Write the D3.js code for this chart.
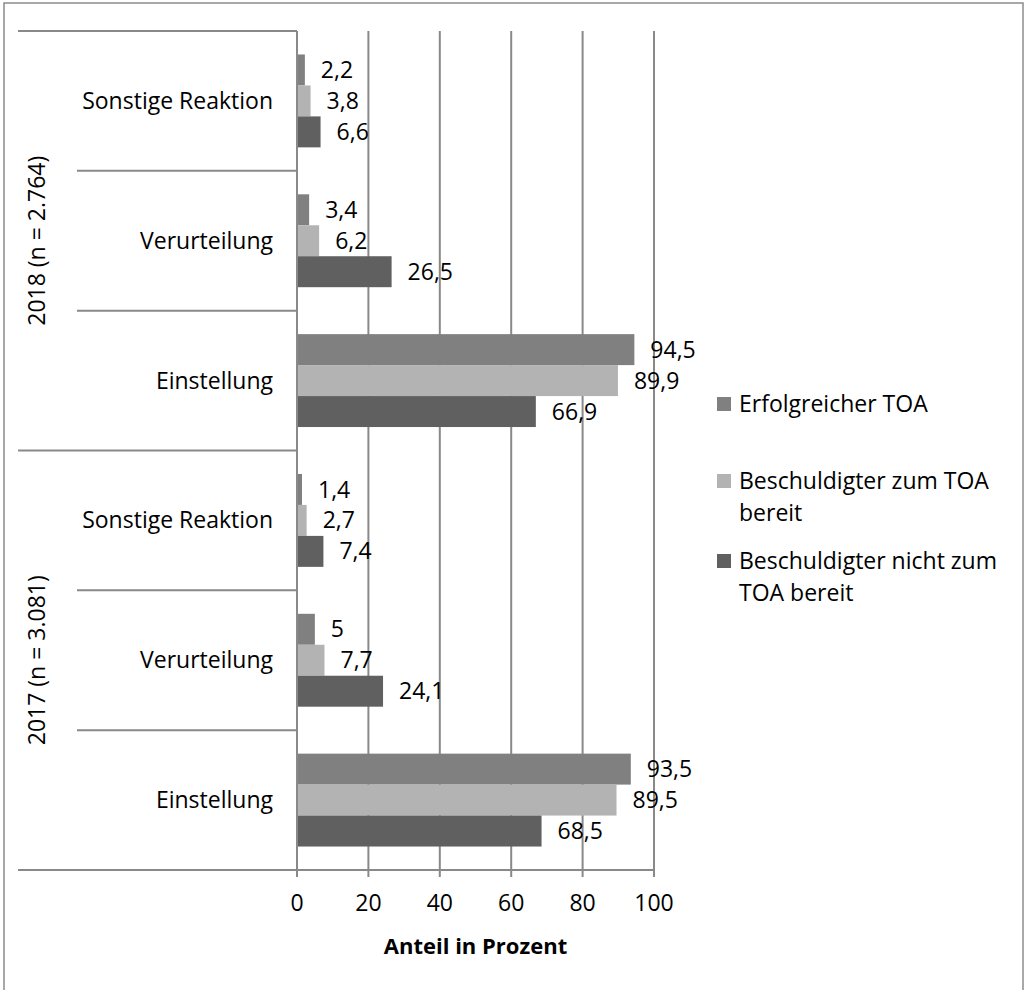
<!DOCTYPE html>
<html>
<head>
<meta charset="utf-8">
<script src="https://cdn.jsdelivr.net/npm/d3@7"></script>
<style>
  body { margin: 0; background: #fff; }
  text { font-family: "Open Sans", Lato, sans-serif; fill: #000; }
</style>
</head>
<body>
<script>
// data
var groups = ["2018 (n = 2.764)", "2017 (n = 3.081)"];
var categories = ["Sonstige Reaktion", "Verurteilung", "Einstellung"];
var seriesNames = ["Erfolgreicher TOA", "Beschuldigter zum TOA bereit", "Beschuldigter nicht zum TOA bereit"];
var legendLines = [["Erfolgreicher TOA"], ["Beschuldigter zum TOA", "bereit"], ["Beschuldigter nicht zum", "TOA bereit"]];
var seriesColors = ["#808080", "#b3b3b3", "#606060"];
var erfolgreich = [2.2, 3.4, 94.5, 1.4, 5, 93.5];
var bereit = [3.8, 6.2, 89.9, 2.7, 7.7, 89.5];
var nichtBereit = [6.6, 26.5, 66.9, 7.4, 24.1, 68.5];
var xTicks = [0, 20, 40, 60, 80, 100];
var axisTitle = "Anteil in Prozent";

var W = 1025, H = 990;
var fs = "23px";
var svg = d3.select("body").append("svg")
    .attr("width", W)
    .attr("height", H);

// outer frame
svg.append("rect")
    .attr("x", 4).attr("y", 3)
    .attr("width", 1019).attr("height", 992)
    .attr("fill", "none")
    .attr("stroke", "#8c8c8c")
    .attr("stroke-width", 1.5);

var rows = [];
groups.forEach(function(g, gi) {
    categories.forEach(function(c, ci) {
        var i = gi * categories.length + ci;
        rows.push({ key: g + "|" + c, group: g, cat: c,
            values: [erfolgreich[i], bereit[i], nichtBereit[i]] });
    });
});

var x = d3.scaleLinear().domain([0, 100]).range([297, 654]);
var y = d3.scaleBand().domain(rows.map(function(d) { return d.key; })).range([31, 870]);
var ys = d3.scaleBand().domain(d3.range(3)).range([0, y.bandwidth()]).paddingInner(0).paddingOuter(0.758);

var lineColor = "#898989";

// vertical gridlines, extend below as tick marks
svg.append("g").selectAll("line")
    .data(xTicks)
    .enter().append("line")
    .attr("x1", function(d) { return x(d); })
    .attr("x2", function(d) { return x(d); })
    .attr("y1", 31).attr("y2", 877)
    .attr("stroke", lineColor)
    .attr("stroke-width", 2);

// bottom line of plot
svg.append("line")
    .attr("x1", 18).attr("x2", x(100))
    .attr("y1", 870).attr("y2", 870)
    .attr("stroke", lineColor).attr("stroke-width", 2);

// category separators
var bounds = d3.range(rows.length).map(function(i) { return { y: y(rows[i].key), major: i % 3 === 0 }; });
svg.append("g").selectAll("line")
    .data(bounds)
    .enter().append("line")
    .attr("x1", function(d) { return d.major ? 18 : 77; })
    .attr("x2", x(0))
    .attr("y1", function(d) { return d.y; })
    .attr("y2", function(d) { return d.y; })
    .attr("stroke", lineColor)
    .attr("stroke-width", 2);

// bars
var rowG = svg.append("g").selectAll("g")
    .data(rows)
    .enter().append("g")
    .attr("transform", function(d) { return "translate(0," + y(d.key) + ")"; });

rowG.selectAll("rect")
    .data(function(d) { return d.values; })
    .enter().append("rect")
    .attr("x", x(0) + 1)
    .attr("y", function(d, i) { return ys(i); })
    .attr("width", function(d) { return x(d) - x(0) - 1; })
    .attr("height", ys.bandwidth())
    .attr("fill", function(d, i) { return seriesColors[i]; });

rowG.selectAll("text.val")
    .data(function(d) { return d.values; })
    .enter().append("text")
    .attr("class", "val")
    .attr("x", function(d) { return x(d) + 16; })
    .attr("y", function(d, i) { return ys(i) + ys.bandwidth() / 2; })
    .attr("dy", "0.35em")
    .style("font-size", fs)
    .text(function(d) { return String(d).replace(".", ","); });

// category labels
rowG.append("text")
    .attr("x", 273)
    .attr("y", y.bandwidth() / 2)
    .attr("dy", "0.35em")
    .attr("text-anchor", "end")
    .style("font-size", fs)
    .text(function(d) { return d.cat; });

// group labels
groups.forEach(function(g, gi) {
    var y0 = y(rows[gi * 3].key), y1 = y(rows[gi * 3 + 2].key) + y.bandwidth();
    svg.append("text")
        .attr("transform", "translate(37," + ((y0 + y1) / 2) + ") rotate(-90)")
        .attr("dy", "0.35em")
        .attr("text-anchor", "middle")
        .style("font-size", fs)
        .text(g);
});

// tick labels
svg.append("g").selectAll("text")
    .data(xTicks)
    .enter().append("text")
    .attr("x", function(d) { return x(d); })
    .attr("y", 911)
    .attr("text-anchor", "middle")
    .style("font-size", fs)
    .text(function(d) { return d; });

svg.append("text")
    .attr("x", (x(0) + x(100)) / 2)
    .attr("y", 954)
    .attr("text-anchor", "middle")
    .style("font-size", "22px")
    .style("font-weight", "bold")
    .text(axisTitle);

// legend
var legendY = [404, 481, 561];
var legend = svg.append("g").selectAll("g")
    .data(seriesNames)
    .enter().append("g")
    .attr("transform", function(d, i) { return "translate(717," + legendY[i] + ")"; });

legend.append("rect")
    .attr("x", 0).attr("y", -7)
    .attr("width", 14).attr("height", 14)
    .attr("fill", function(d, i) { return seriesColors[i]; });

legend.append("text")
    .attr("x", 22)
    .style("font-size", fs)
    .each(function(d, i) {
        var t = d3.select(this);
        legendLines[i].forEach(function(l, li) {
            t.append("tspan").attr("x", 22).attr("dy", li === 0 ? "0.35em" : "31.5px").text(l);
        });
    });
</script>
</body>
</html>
